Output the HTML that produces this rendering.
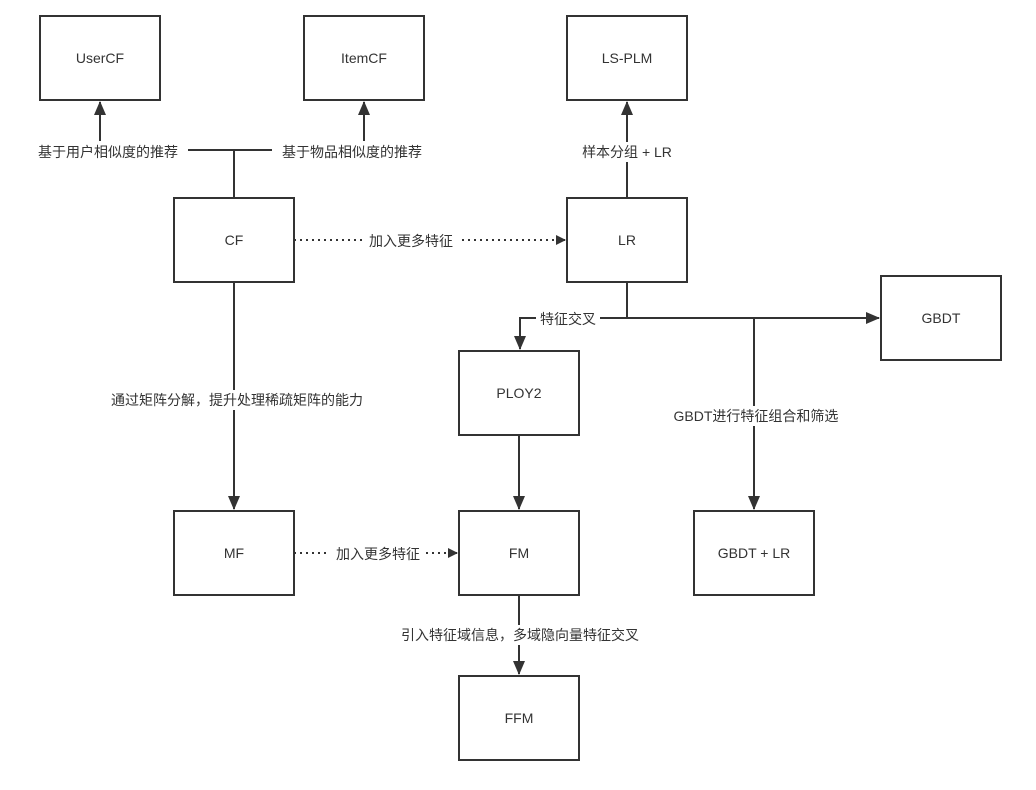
<!DOCTYPE html>
<html><head><meta charset="utf-8"><style>
html,body{margin:0;padding:0;background:#fff;}
svg text{font-family:"Liberation Sans","Noto Sans CJK SC",sans-serif;font-size:14px;fill:#333;}
</style></head><body>
<svg width="1036" height="785" viewBox="0 0 1036 785" xmlns="http://www.w3.org/2000/svg">
<defs><marker id="a" markerWidth="10" markerHeight="10" refX="9" refY="5" orient="auto" markerUnits="userSpaceOnUse"><path d="M0,0 L10,5 L0,10 Z" fill="#333"/></marker>
<marker id="b" markerWidth="14" markerHeight="12" refX="13" refY="6" orient="auto" markerUnits="userSpaceOnUse"><path d="M0,0 L14,6 L0,12 Z" fill="#333"/></marker></defs>
<g fill="#fff" stroke="#333" stroke-width="2">
<rect x="40" y="16" width="120" height="84"/>
<rect x="304" y="16" width="120" height="84"/>
<rect x="567" y="16" width="120" height="84"/>
<rect x="174" y="198" width="120" height="84"/>
<rect x="567" y="198" width="120" height="84"/>
<rect x="881" y="276" width="120" height="84"/>
<rect x="459" y="351" width="120" height="84"/>
<rect x="174" y="511" width="120" height="84"/>
<rect x="459" y="511" width="120" height="84"/>
<rect x="694" y="511" width="120" height="84"/>
<rect x="459" y="676" width="120" height="84"/>
</g>
<g text-anchor="middle">
<text x="100" y="63">UserCF</text>
<text x="364" y="63">ItemCF</text>
<text x="627" y="63">LS-PLM</text>
<text x="234" y="245">CF</text>
<text x="627" y="245">LR</text>
<text x="941" y="323">GBDT</text>
<text x="519" y="398">PLOY2</text>
<text x="234" y="558">MF</text>
<text x="519" y="558">FM</text>
<text x="754" y="558">GBDT + LR</text>
<text x="519" y="723">FFM</text>
</g>
<g stroke="#333" stroke-width="2" fill="none">
<path d="M234 198 V150 M188 150 H272"/>
<path d="M100 150 V102" marker-end="url(#b)"/>
<path d="M364 150 V102" marker-end="url(#b)"/>
<path d="M627 198 V102" marker-end="url(#b)"/>
<path d="M294 240 H565" stroke-dasharray="2,4" marker-end="url(#a)"/>
<path d="M294 553 H457" stroke-dasharray="2,4" marker-end="url(#a)"/>
<path d="M627 282 V318 H879" marker-end="url(#b)"/>
<path d="M627 318 H520 V349" marker-end="url(#b)"/>
<path d="M754 318 V509" marker-end="url(#b)"/>
<path d="M234 282 V509" marker-end="url(#b)"/>
<path d="M519 435 V509" marker-end="url(#b)"/>
<path d="M519 595 V674" marker-end="url(#b)"/>
</g>
<g text-anchor="middle">
<rect x="28" y="141" width="160" height="20" fill="#fff"/>
<text x="108" y="157">基于用户相似度的推荐</text>
<rect x="272" y="141" width="160" height="20" fill="#fff"/>
<text x="352" y="157">基于物品相似度的推荐</text>
<rect x="575" y="142" width="104" height="20" fill="#fff"/>
<text x="627" y="157">样本分组 + LR</text>
<rect x="363" y="231" width="96" height="20" fill="#fff"/>
<text x="411" y="246">加入更多特征</text>
<rect x="330" y="544" width="96" height="20" fill="#fff"/>
<text x="378" y="559">加入更多特征</text>
<rect x="536" y="309" width="64" height="20" fill="#fff"/>
<text x="568" y="324">特征交叉</text>
<rect x="664" y="406" width="184" height="20" fill="#fff"/>
<text x="756" y="421">GBDT进行特征组合和筛选</text>
<rect x="94" y="390" width="286" height="20" fill="#fff"/>
<text x="237" y="405">通过矩阵分解，提升处理稀疏矩阵的能力</text>
<rect x="386" y="625" width="268" height="20" fill="#fff"/>
<text x="520" y="640">引入特征域信息，多域隐向量特征交叉</text>
</g>
</svg>
</body></html>
